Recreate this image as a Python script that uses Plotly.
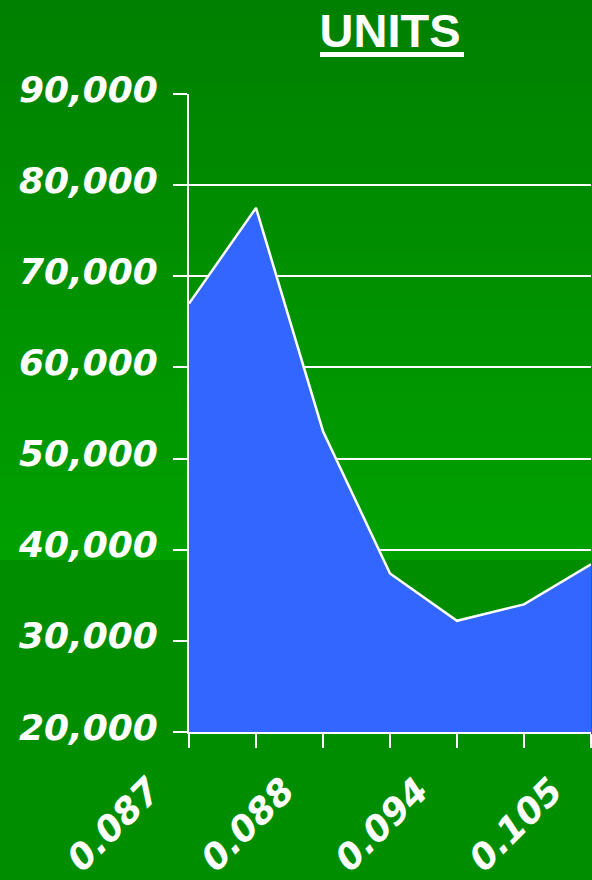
import plotly.graph_objects as go

# ---- data ----
tick_labels = ["0.087", "", "0.088", "", "0.094", "", "0.105"]
units = [67000, 77500, 53000, 37400, 32200, 34000, 38400]
y_ticks = [20000, 30000, 40000, 50000, 60000, 70000, 80000, 90000]
title_text = "UNITS"

x_pos = list(range(len(units)))

W, H = 592, 880
ML, MR, MT, MB = 189, 1, 94, 148
plot_w = W - ML - MR
plot_h = H - MT - MB

fig = go.Figure()
fig.add_trace(go.Scatter(
    x=x_pos, y=units, mode="lines", fill="tozeroy",
    fillcolor="#3366FF", line=dict(color="white", width=2.5),
    hoverinfo="skip", showlegend=False,
))

# background gradient (bands)
shapes = []
def py_paper(py):
    return (H - MB - py) / plot_h

def px_paper(px):
    return (px - ML) / plot_w

n1 = 40
top_end = 560
for i in range(n1):
    y0 = top_end * i / n1
    y1 = top_end * (i + 1) / n1
    g = int(round(128 + (160 - 128) * (i + 0.5) / n1))
    shapes.append(dict(type="rect", xref="paper", yref="paper",
                       x0=-1, x1=2, y0=py_paper(y1), y1=py_paper(y0),
                       fillcolor=f"rgb(0,{g},0)", line=dict(width=0), layer="below"))
shapes.append(dict(type="rect", xref="paper", yref="paper",
                   x0=-1, x1=2, y0=py_paper(H + 5), y1=py_paper(top_end),
                   fillcolor="rgb(0,142,0)", line=dict(width=0), layer="below"))
# thick title underline
shapes.append(dict(type="line", xref="paper", yref="paper",
                   x0=px_paper(320), x1=px_paper(464), y0=py_paper(54.5), y1=py_paper(54.5),
                   line=dict(color="white", width=5), layer="above"))

tick_font = dict(family="DejaVu Sans", size=36, color="white", weight="bold", style="italic")

fig.update_layout(
    width=W, height=H,
    margin=dict(l=ML, r=MR, t=MT, b=MB, autoexpand=False),
    paper_bgcolor="rgb(0,142,0)",
    plot_bgcolor="rgba(0,0,0,0)",
    shapes=shapes,
    title=dict(text=title_text, x=0.5, xref="paper", y=1 - 47 / H, yanchor="bottom",
               automargin=False,
               font=dict(family="Liberation Sans", size=47, color="white", weight="bold")),
    xaxis=dict(
        range=[0, 6], tickmode="array", tickvals=x_pos, ticktext=tick_labels,
        tickangle=-45, tickfont=tick_font, ticks="outside", ticklen=14, tickwidth=2,
        tickcolor="white", showline=True, linecolor="white", linewidth=2,
        showgrid=False, zeroline=False, ticklabelshift=-39, ticklabelstandoff=7,
        automargin=False,
    ),
    yaxis=dict(
        range=[20000, 90000], tickmode="array", tickvals=y_ticks, tickformat=",d",
        tickfont=tick_font, ticks="outside", ticklen=14, tickwidth=2, tickcolor="white",
        showline=True, linecolor="white", linewidth=2, showgrid=True,
        gridcolor="white", gridwidth=2, zeroline=False, ticklabelstandoff=8,
        ticklabelshift=-5, automargin=False,
    ),
)

fig.write_html(
    "out.html",
    config={"displayModeBar": False},
    post_script="document.body.style.margin='0';document.body.style.overflow='hidden';",
)
